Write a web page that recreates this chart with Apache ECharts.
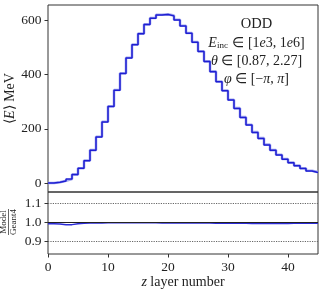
<!DOCTYPE html>
<html><head><meta charset="utf-8">
<script src="https://cdn.jsdelivr.net/npm/echarts@6/dist/echarts.min.js"></script>
<style>html,body{margin:0;padding:0;background:#fff}#c{width:324px;height:292px}</style>
</head><body><div id="c"></div>
<script>
// bin left edges (z layer number) and last right edge
const layerEdges = [0,1,2,3,4,5,6,7,8,9,10,11,12,13,14,15,16,17,18,19,20,21,22,23,24,25,26,27,28,29,30,31,32,33,34,35,36,37,38,39,40,41,42,43,44,45];
// mean energy per layer, MeV
const geant4 = [1,4,9,16,32,55,84,122,171,226,283,343,404,461,510,550,584,607,619,621,616,601,579,552,519,485,448,411,374,341,307,276,243,215,188,166,142,122,105,89,76,65,55,46,41];
const model  = [1,4,8,16,32,55,83,121,170,225,282,342,403,460,509,549,583,606,618,620,615,600,578,551,518,484,447,410,373,340,306,275,242,214,187,165,141,121,104,88,75,64,54,45,40];
// Model / Geant4 ratio per layer
const ratio  = [0.993,0.992,0.988,0.989,0.994,0.996,0.997,0.998,0.998,0.999,0.999,0.999,0.999,0.999,0.999,0.999,0.999,0.999,0.998,0.998,0.998,0.998,0.998,0.997,0.997,0.997,0.997,0.996,0.996,0.996,0.996,0.996,0.996,0.995,0.995,0.995,0.995,0.995,0.995,0.995,0.996,0.996,0.996,0.996,0.996];
const xTicks = [0,10,20,30,40];
const yTicksMain = [0,200,400,600];
const yTicksRatio = [0.9,1.0,1.1];
const refLines = [0.9,1.0,1.1];

function stairs(vals){
  const d = vals.map((v,i)=>[layerEdges[i], v]);
  d.push([layerEdges[vals.length], vals[vals.length-1]]);
  return d;
}
const FONT = 'Liberation Serif';
const ink = '#222';
const chart = echarts.init(document.getElementById('c'), null, {renderer:'canvas'});
const tickStyle = {show:true, inside:false, length:3.5, lineStyle:{color:'#333', width:1}};
const labelBase = {color:ink, fontFamily:FONT, fontSize:13.5};
chart.setOption({
  animation:false,
  backgroundColor:'#fff',
  textStyle:{fontFamily:FONT},
  grid:[
    {left:48, top:5, width:270, height:187, show:true, borderColor:'#333', borderWidth:1, backgroundColor:'transparent', containLabel:false, outerBoundsMode:'none'},
    {left:48, top:192, width:270, height:62, show:true, borderColor:'#333', borderWidth:1, backgroundColor:'transparent', containLabel:false, outerBoundsMode:'none'}
  ],
  xAxis:[
    {gridIndex:0, type:'value', min:0, max:45, interval:10, axisLine:{show:false}, axisTick:{show:false}, axisLabel:{show:false}, splitLine:{show:false}},
    {gridIndex:1, type:'value', min:0, max:45, interval:10, axisLine:{show:false},
     axisTick:Object.assign({customValues:xTicks}, tickStyle),
     axisLabel:Object.assign({customValues:xTicks, margin:6}, labelBase),
     splitLine:{show:false},
     name:'{i|z} layer number', nameLocation:'middle', nameGap:21, nameMoveOverlap:false,
     nameTextStyle:{color:ink, fontFamily:FONT, fontSize:14, rich:{i:{fontStyle:'italic', fontFamily:FONT, fontSize:14, color:ink}}}}
  ],
  yAxis:[
    {gridIndex:0, type:'value', min:-32, max:655, axisLine:{show:false},
     axisTick:Object.assign({customValues:yTicksMain}, tickStyle),
     axisLabel:Object.assign({customValues:yTicksMain, margin:6.5}, labelBase),
     splitLine:{show:false},
     name:'⟨{i|E}⟩ MeV', nameLocation:'middle', nameGap:31, nameMoveOverlap:false,
     nameTextStyle:{color:ink, fontFamily:FONT, fontSize:14, rich:{i:{fontStyle:'italic', fontFamily:FONT, fontSize:14, color:ink}}}},
    {gridIndex:1, type:'value', min:0.836, max:1.159, axisLine:{show:false},
     axisTick:Object.assign({customValues:yTicksRatio}, tickStyle),
     axisLabel:Object.assign({customValues:yTicksRatio, margin:6.5, formatter:v=>v.toFixed(1)}, labelBase),
     splitLine:{show:false}}
  ],
  series:[
    {type:'line', name:'Geant4', xAxisIndex:0, yAxisIndex:0, step:'end', symbol:'none', data:stairs(geant4),
     lineStyle:{color:'#a3a9f0', width:2.6}, z:2},
    {type:'line', name:'Model', xAxisIndex:0, yAxisIndex:0, step:'end', symbol:'none', data:stairs(model),
     lineStyle:{color:'#1e1ed2', width:1.5}, z:3},
    {type:'line', name:'ratio', xAxisIndex:1, yAxisIndex:1, step:'end', symbol:'none', data:stairs(ratio),
     lineStyle:{color:'#2a2ad6', width:1.5}, z:3,
     markLine:{silent:true, symbol:'none', label:{show:false}, animation:false,
       data:refLines.map(v=>({yAxis:v, lineStyle: v===1.0 ? {color:'#222', type:'solid', width:1} : {color:'#666', type:[1.2,1.2], width:1}}))}}
  ],
  graphic:[
    {type:'text', x:256.5, y:24, style:{text:'ODD', align:'center', verticalAlign:'middle', fill:ink, font:'14.5px "Liberation Serif"'}},
    {type:'text', x:256.5, y:43, style:{text:'{i|E}{s|inc} ∈ [1{i|e}3, 1{i|e}6]', align:'center', verticalAlign:'middle', fill:ink, font:'14px "Liberation Serif"',
      rich:{i:{fontStyle:'italic', fontSize:14, fontFamily:FONT, fill:ink}, s:{fontSize:9, fontFamily:FONT, fill:ink, verticalAlign:'bottom', lineHeight:12, padding:[6,1,0,0]}}}},
    {type:'text', x:256.5, y:61, style:{text:'{i|θ} ∈ [0.87, 2.27]', align:'center', verticalAlign:'middle', fill:ink, font:'14px "Liberation Serif"',
      rich:{i:{fontStyle:'italic', fontSize:14, fontFamily:FONT, fill:ink}}}},
    {type:'text', x:256.5, y:79.5, style:{text:'{i|φ} ∈ [−{i|π}, {i|π}]', align:'center', verticalAlign:'middle', fill:ink, font:'14px "Liberation Serif"',
      rich:{i:{fontStyle:'italic', fontSize:14, fontFamily:FONT, fill:ink}}}},
    {type:'group', x:8.5, y:222, rotation:Math.PI/2, children:[
      {type:'text', x:0, y:-4.5, style:{text:'Model', align:'center', verticalAlign:'middle', fill:ink, font:'9px "Liberation Serif"'}},
      {type:'line', shape:{x1:-13, y1:0, x2:13, y2:0}, style:{stroke:ink, lineWidth:0.7}},
      {type:'text', x:0, y:5, style:{text:'Geant4', align:'center', verticalAlign:'middle', fill:ink, font:'9px "Liberation Serif"'}}
    ]}
  ]
});
</script></body></html>
